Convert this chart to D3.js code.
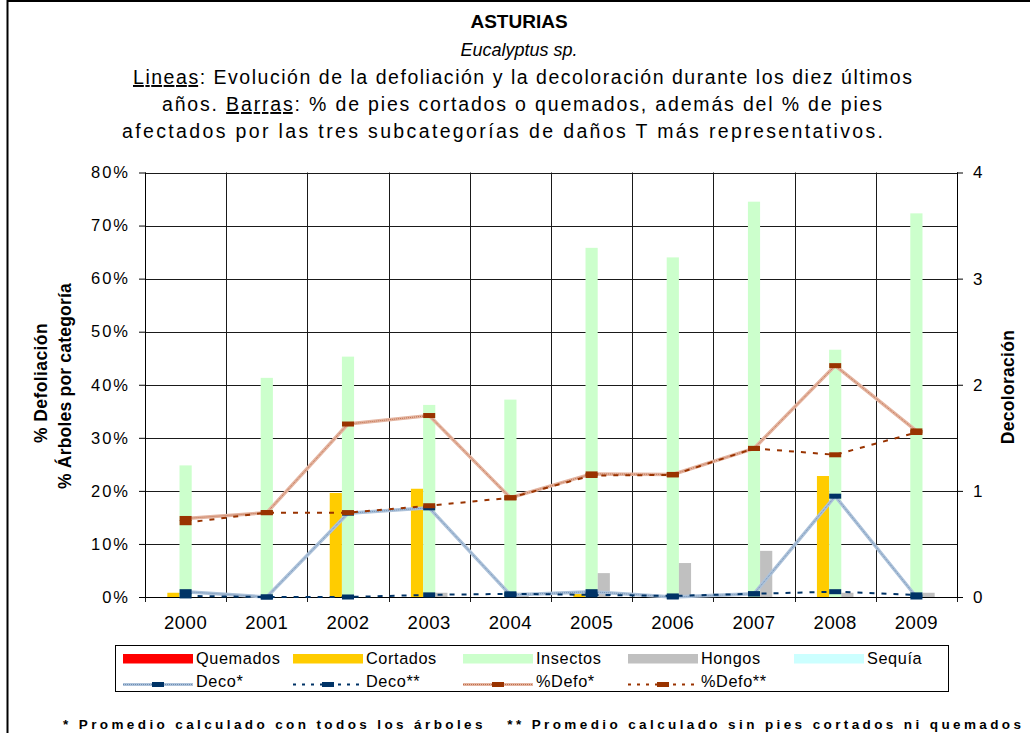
<!DOCTYPE html>
<html>
<head>
<meta charset="utf-8">
<script src="https://cdn.jsdelivr.net/npm/d3@7"></script>
<style>
  body { margin: 0; background: #fff; }
  svg { font-family: 'Liberation Sans', Arial, sans-serif; }
</style>
</head>
<body>
<div id="chart"></div>
<script>
// data
let years = ['2000', '2001', '2002', '2003', '2004', '2005', '2006', '2007', '2008', '2009']
let quemados = [0, 0, 0, 0, 0, 0, 0, 0, 0, 0]
let cortados = [0.8, 0, 19.6, 20.4, 0, 0.6, 0, 0, 22.8, 0]
let insectos = [24.8, 41.3, 45.3, 36.2, 37.2, 65.8, 64.0, 74.5, 46.6, 72.3]
let hongos = [0, 0, 0, 0.8, 0.8, 4.5, 6.4, 8.7, 0.8, 0.8]
let sequia = [0, 0, 0, 0, 0, 0, 0, 0, 0, 0]
let deco1 = [0.05, 0, 0.79, 0.84, 0.02, 0.05, 0, 0.03, 0.95, 0]
let deco2 = [0.01, 0, 0, 0.02, 0.03, 0.02, 0.01, 0.03, 0.05, 0.02]
let defo1 = [14.8, 15.9, 32.6, 34.2, 18.7, 23.2, 23.1, 28.0, 43.6, 31.3]
let defo2 = [14.0, 15.9, 15.9, 17.2, 18.7, 22.9, 23.0, 28.0, 26.8, 31.0]
let leftTicks = [0, 10, 20, 30, 40, 50, 60, 70, 80]
let rightTicks = [0, 1, 2, 3, 4]

let barSeries = [
  { name: 'Quemados', values: quemados, color: '#ff0000' },
  { name: 'Cortados', values: cortados, color: '#ffcc00' },
  { name: 'Insectos', values: insectos, color: '#ccffcc' },
  { name: 'Hongos', values: hongos, color: '#c0c0c0' },
  { name: 'Sequía', values: sequia, color: '#ccffff' }
]

let width = 1030,
  height = 733,
  plotLeft = 145,
  plotRight = 957,
  plotTop = 172.5,
  plotBottom = 597

let svg = d3.select('#chart').append('svg')
  .attr('width', width)
  .attr('height', height)

// outer frame
svg.append('rect')
  .attr('x', 7.5).attr('y', 1)
  .attr('width', 1040).attr('height', 760)
  .attr('fill', 'none').attr('stroke', '#000').attr('stroke-width', 2)

// titles
let titles = svg.append('g').attr('text-anchor', 'middle').attr('fill', '#000')
titles.append('text').attr('x', 519).attr('y', 28)
  .style('font-weight', 'bold').style('font-size', '19px').text('ASTURIAS')
titles.append('text').attr('x', 519).attr('y', 56)
  .style('font-style', 'italic').style('font-size', '18px').text('Eucalyptus sp.')

let l1 = titles.append('text').attr('x', 522.5).attr('y', 84).style('font-size', '19.5px')
  .attr('textLength', 779).attr('lengthAdjust', 'spacing')
l1.append('tspan').style('text-decoration', 'underline').text('Lineas')
l1.append('tspan').text(': Evolución de la defoliación y la decoloración durante los diez últimos')
let l2 = titles.append('text').attr('x', 522).attr('y', 111).style('font-size', '19.5px')
  .attr('textLength', 720).attr('lengthAdjust', 'spacing')
l2.append('tspan').text('años. ')
l2.append('tspan').style('text-decoration', 'underline').text('Barras')
l2.append('tspan').text(': % de pies cortados o quemados, además del % de pies')
titles.append('text').attr('x', 502.5).attr('y', 138).style('font-size', '19.5px')
  .attr('textLength', 761).attr('lengthAdjust', 'spacing')
  .text('afectados por las tres subcategorías de daños T más representativos.')

// scales
let x = d3.scaleBand().domain(years).range([plotLeft, plotRight])
let xs = d3.scaleBand().domain(barSeries.map(d => d.name))
  .range([-x.bandwidth() * 0.375, x.bandwidth() * 0.375])
let y = d3.scaleLinear().domain([0, 80]).range([plotBottom, plotTop])
let y2 = d3.scaleLinear().domain([0, 4]).range([plotBottom, plotTop])

// gridlines
let grid = svg.append('g').attr('stroke', '#1a1a1a').attr('stroke-width', 1)
leftTicks.forEach(t => {
  grid.append('line')
    .attr('x1', plotLeft).attr('x2', plotRight)
    .attr('y1', Math.round(y(t)) + 0.5).attr('y2', Math.round(y(t)) + 0.5)
})
years.forEach(yr => {
  let xx = Math.round(x(yr)) + 0.5
  grid.append('line').attr('x1', xx).attr('x2', xx).attr('y1', plotTop).attr('y2', plotBottom + 5)
})
grid.append('line')
  .attr('x1', Math.round(plotRight) + 0.5).attr('x2', Math.round(plotRight) + 0.5)
  .attr('y1', plotTop).attr('y2', plotBottom + 5)

// bars
barSeries.forEach(s => {
  svg.append('g').selectAll('rect')
    .data(s.values)
    .enter().append('rect')
    .attr('x', (d, i) => x(years[i]) + x.bandwidth() / 2 + xs(s.name))
    .attr('width', xs.bandwidth())
    .attr('y', d => y(d))
    .attr('height', d => plotBottom - y(d))
    .attr('fill', s.color)
})

// axes
let axL = svg.append('g')
  .attr('transform', 'translate(' + plotLeft + ',0)')
  .call(d3.axisLeft(y).tickValues(leftTicks).tickFormat(d => d + '%').tickSize(6).tickPadding(9))
axL.select('.domain').remove()
axL.append('line').attr('x1', 0.5).attr('x2', 0.5).attr('y1', plotTop).attr('y2', plotBottom).attr('stroke', '#000')
axL.selectAll('.tick text').style('font-size', '16.5px').style('letter-spacing', '2px')

let axR = svg.append('g')
  .attr('transform', 'translate(' + plotRight + ',0)')
  .call(d3.axisRight(y2).tickValues(rightTicks).tickFormat(d3.format('d')).tickSize(6).tickPadding(10))
axR.select('.domain').remove()
axR.append('line').attr('x1', 0.5).attr('x2', 0.5).attr('y1', plotTop).attr('y2', plotBottom).attr('stroke', '#000')
axR.selectAll('.tick text').style('font-size', '17px')

let axB = svg.append('g')
  .attr('transform', 'translate(0,' + plotBottom + ')')
  .call(d3.axisBottom(x).tickSize(0).tickPadding(19))
axB.select('.domain').attr('stroke', '#000')
axB.selectAll('.tick text').style('font-size', '18.5px').style('letter-spacing', '0.5px')

svg.selectAll('.tick text').attr('fill', '#000')
svg.selectAll('.tick line').attr('stroke', '#000')

// axis titles
svg.append('text')
  .attr('transform', 'translate(47,383) rotate(-90)')
  .attr('text-anchor', 'middle')
  .style('font-weight', 'bold').style('font-size', '17.5px').style('letter-spacing', '0.4px')
  .text('% Defoliación')
svg.append('text')
  .attr('transform', 'translate(71,386) rotate(-90)')
  .attr('text-anchor', 'middle')
  .style('font-weight', 'bold').style('font-size', '17.5px').style('letter-spacing', '0.2px')
  .text('% Árboles por categoría')
svg.append('text')
  .attr('transform', 'translate(1014,387) rotate(-90)')
  .attr('text-anchor', 'middle')
  .style('font-weight', 'bold').style('font-size', '17.5px').style('letter-spacing', '0.3px')
  .text('Decoloración')

// lines
let cx = (d, i) => x(years[i]) + x.bandwidth() / 2

let lineSeries = [
  { name: 'Deco*', values: deco1, scale: y2, color: '#adc2da', inner: '#6f8fb3', marker: '#003366', dash: null },
  { name: 'Deco**', values: deco2, scale: y2, color: '#003366', marker: '#003366', dash: '5,7' },
  { name: '%Defo*', values: defo1, scale: y, color: '#e4b4a0', inner: '#c0704c', marker: '#993300', dash: null },
  { name: '%Defo**', values: defo2, scale: y, color: '#993300', marker: '#993300', dash: '5,7' }
]

lineSeries.forEach(s => {
  let line = d3.line().x(cx).y(d => s.scale(d))
  if (s.dash) {
    svg.append('path').datum(s.values)
      .attr('d', line).attr('fill', 'none')
      .attr('stroke', s.color).attr('stroke-width', 2).attr('stroke-dasharray', s.dash)
  } else {
    svg.append('path').datum(s.values)
      .attr('d', line).attr('fill', 'none')
      .attr('stroke', s.color).attr('stroke-width', 3.5)
    svg.append('path').datum(s.values)
      .attr('d', line).attr('fill', 'none')
      .attr('stroke', s.inner).attr('stroke-width', 1).attr('stroke-dasharray', '1,1')
  }
  svg.append('g').selectAll('rect')
    .data(s.values)
    .enter().append('rect')
    .attr('x', (d, i) => cx(d, i) - 6)
    .attr('y', d => s.scale(d) - 2.5)
    .attr('width', 12).attr('height', 5)
    .attr('fill', s.marker)
})

// legend
let legendX = [123, 293, 463, 628, 794]
let lg = svg.append('g')
lg.append('rect')
  .attr('x', 115.5).attr('y', 645.5).attr('width', 833).attr('height', 46)
  .attr('fill', '#fff').attr('stroke', '#000')

barSeries.forEach((s, i) => {
  let lx = legendX[i]
  lg.append('rect').attr('x', lx).attr('y', 654).attr('width', 70).attr('height', 9.5).attr('fill', s.color)
  lg.append('text').attr('x', lx + 73).attr('y', 663.5)
    .style('font-size', '16.3px').style('letter-spacing', '0.6px').text(s.name)
})
lineSeries.forEach((s, i) => {
  let lx = legendX[i]
  let ly = 684.5
  if (s.dash) {
    lg.append('line').attr('x1', lx).attr('x2', lx + 70).attr('y1', ly).attr('y2', ly)
      .attr('stroke', s.color).attr('stroke-width', 2).attr('stroke-dasharray', '3,6')
  } else {
    lg.append('line').attr('x1', lx).attr('x2', lx + 70).attr('y1', ly).attr('y2', ly)
      .attr('stroke', s.color).attr('stroke-width', 3)
    lg.append('line').attr('x1', lx).attr('x2', lx + 70).attr('y1', ly).attr('y2', ly)
      .attr('stroke', s.inner).attr('stroke-width', 1).attr('stroke-dasharray', '1,1')
  }
  lg.append('rect').attr('x', lx + 29).attr('y', ly - 2.5).attr('width', 12).attr('height', 5).attr('fill', s.marker)
  lg.append('text').attr('x', lx + 73).attr('y', 687)
    .style('font-size', '16.3px').style('letter-spacing', '0.6px').text(s.name)
})

// footnote
svg.append('text')
  .attr('x', 63).attr('y', 728.5)
  .style('font-size', '13.5px').style('font-weight', 'bold')
  .attr('textLength', 958).attr('lengthAdjust', 'spacing')
  .attr('xml:space', 'preserve')
  .text('* Promedio calculado con todos los árboles   ** Promedio calculado sin pies cortados ni quemados')
</script>
</body>
</html>
